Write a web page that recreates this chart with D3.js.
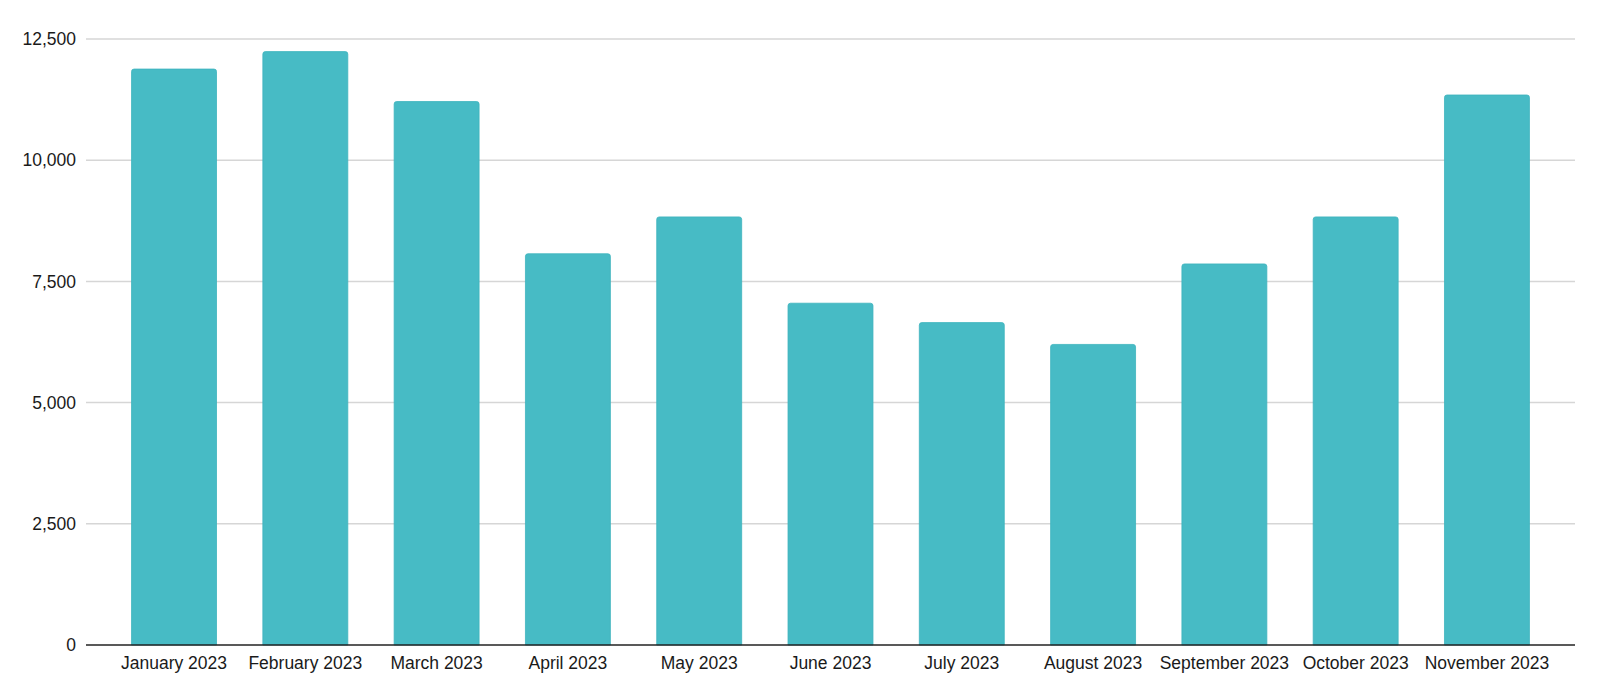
<!DOCTYPE html>
<html>
<head>
<meta charset="utf-8">
<script src="https://cdn.jsdelivr.net/npm/d3@7"></script>
<style>
  body { margin: 0; background: #fff; }
  text { font-family: Arial, "Liberation Sans", sans-serif; fill: #1a1a1a; }
</style>
</head>
<body>
<div id="chart"></div>
<script>
// monthly totals
const months = ["January 2023", "February 2023", "March 2023", "April 2023", "May 2023", "June 2023",
    "July 2023", "August 2023", "September 2023", "October 2023", "November 2023"];
const values = [11880, 12240, 11210, 8070, 8830, 7050, 6650, 6200, 7860, 8830, 11345];
const yTicks = [0, 2500, 5000, 7500, 10000, 12500];

const width = 1600,
    height = 698;
const margin = {top: 39, right: 25, bottom: 53, left: 86};

const svg = d3.select("#chart")
    .append("svg")
    .attr("width", width)
    .attr("height", height);

const x = d3.scaleBand()
    .domain(months)
    .range([margin.left, width - margin.right])
    .paddingInner(0.353)
    .paddingOuter(0.347);

const y = d3.scaleLinear()
    .domain([0, 12500])
    .range([height - margin.bottom, margin.top]);

// gridlines + y labels
const grid = svg.append("g")
    .selectAll("g")
    .data(yTicks)
    .join("g");

grid.filter(d => d > 0)
    .append("line")
    .attr("x1", margin.left)
    .attr("x2", width - margin.right)
    .attr("y1", d => y(d))
    .attr("y2", d => y(d))
    .attr("stroke", "#d6d6d6")
    .attr("stroke-width", 1.5);

grid.append("text")
    .attr("x", margin.left - 10)
    .attr("y", d => y(d))
    .attr("dy", "0.35em")
    .attr("text-anchor", "end")
    .style("font-size", "17.5px")
    .text(d => d3.format(",")(d));

// bars with slightly rounded top corners
const r = 2.5;
svg.append("g")
    .selectAll("path")
    .data(values)
    .join("path")
    .attr("d", (d, i) => {
        const x0 = x(months[i]), x1 = x0 + x.bandwidth();
        const y0 = y(0), y1 = y(d);
        return `M${x0},${y0}V${y1 + r}Q${x0},${y1} ${x0 + r},${y1}H${x1 - r}Q${x1},${y1} ${x1},${y1 + r}V${y0}Z`;
    })
    .attr("fill", "#47bbc5")
    .attr("stroke", "#3db4be")
    .attr("stroke-width", 0.8);

// baseline
svg.append("line")
    .attr("x1", margin.left)
    .attr("x2", width - margin.right)
    .attr("y1", y(0))
    .attr("y2", y(0))
    .attr("stroke", "#222")
    .attr("stroke-width", 1.5);

// x labels
svg.append("g")
    .selectAll("text")
    .data(months)
    .join("text")
    .attr("x", d => x(d) + x.bandwidth() / 2)
    .attr("y", y(0) + 24)
    .attr("text-anchor", "middle")
    .style("font-size", "17.5px")
    .text(d => d);
</script>
</body>
</html>
